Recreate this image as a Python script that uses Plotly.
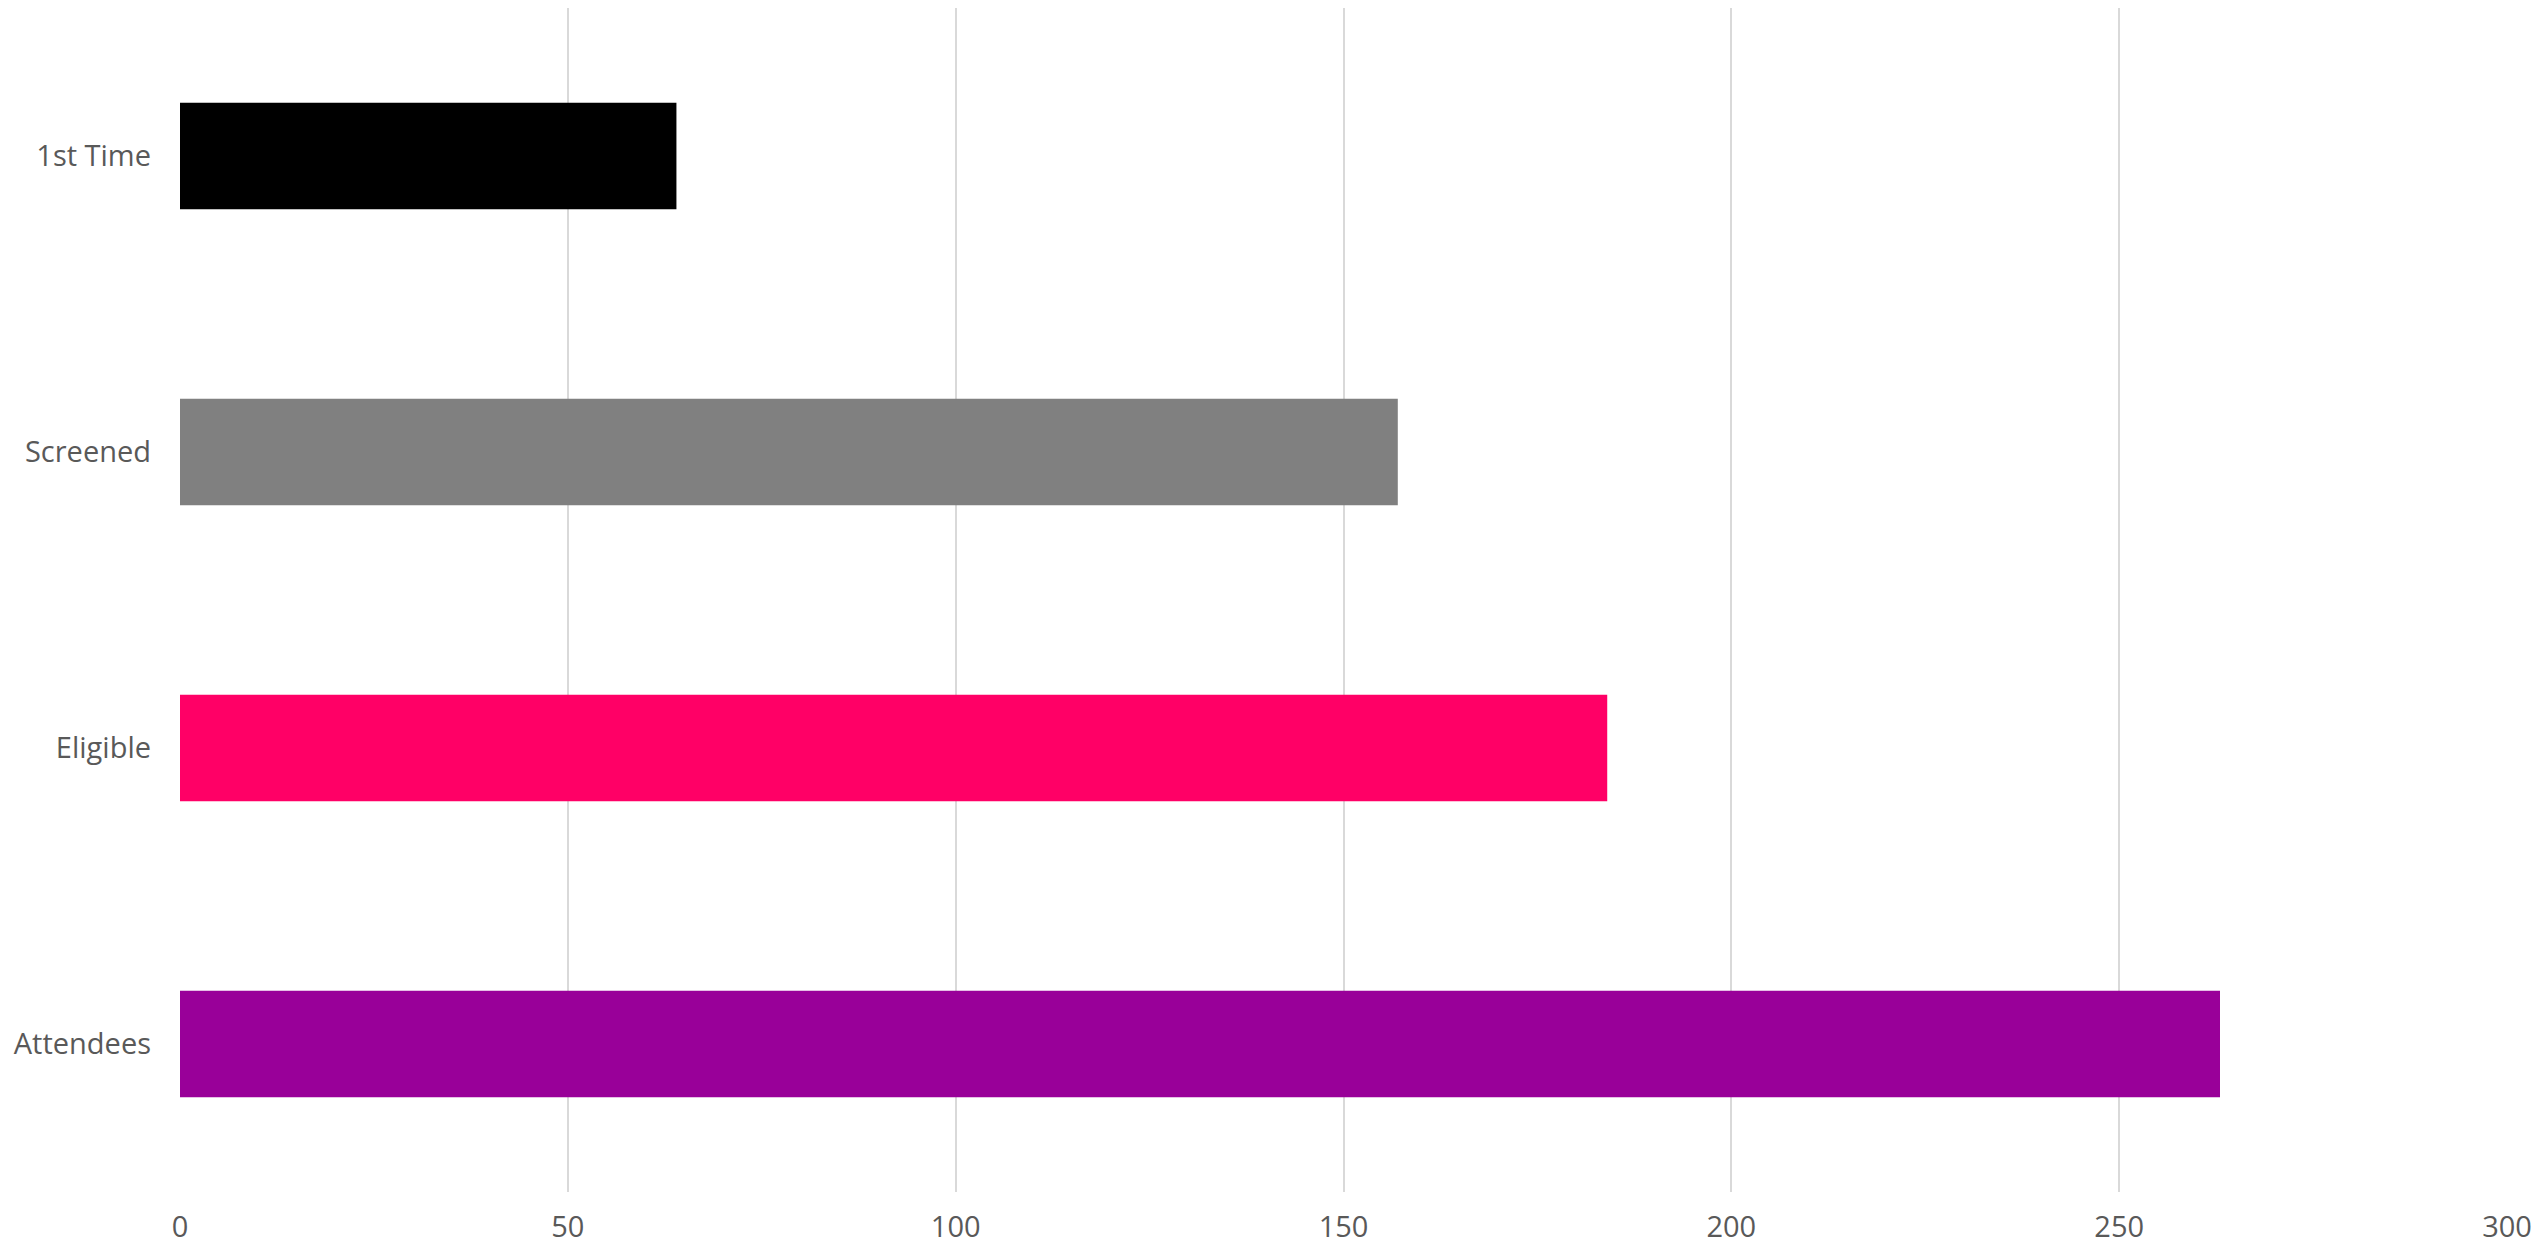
import plotly.graph_objects as go

categories = ["Attendees", "Eligible", "Screened", "1st Time"]
values = [263, 184, 157, 64]
bar_colors = ["#990099", "#FF0066", "#808080", "#000000"]
x_ticks = [0, 50, 100, 150, 200, 250, 300]

fig = go.Figure()
fig.add_trace(go.Bar(
    y=categories,
    x=values,
    orientation="h",
    marker=dict(color=bar_colors, line=dict(width=0)),
    showlegend=False,
    hoverinfo="x+y",
))

font_family = "Open Sans, Lato, DejaVu Sans, sans-serif"

fig.update_layout(
    width=2526,
    height=1237,
    margin=dict(l=172, r=27, t=0, b=36),
    paper_bgcolor="white",
    plot_bgcolor="white",
    bargap=0.64,
    font=dict(family=font_family, size=29, color="#595959"),
    xaxis=dict(
        range=[0, 300],
        tickvals=x_ticks,
        ticktext=[str(v) for v in x_ticks],
        showgrid=True,
        gridcolor="#d9d9d9",
        gridwidth=1.5,
        zeroline=False,
        showline=False,
        ticks="",
        ticklabelstandoff=15,
        tickfont=dict(size=29, color="#595959"),
    ),
    yaxis=dict(
        showgrid=False,
        zeroline=False,
        showline=False,
        ticks="",
        ticklabelstandoff=28,
        tickfont=dict(size=29, color="#595959"),
    ),
)

fig.write_html("out.html")
